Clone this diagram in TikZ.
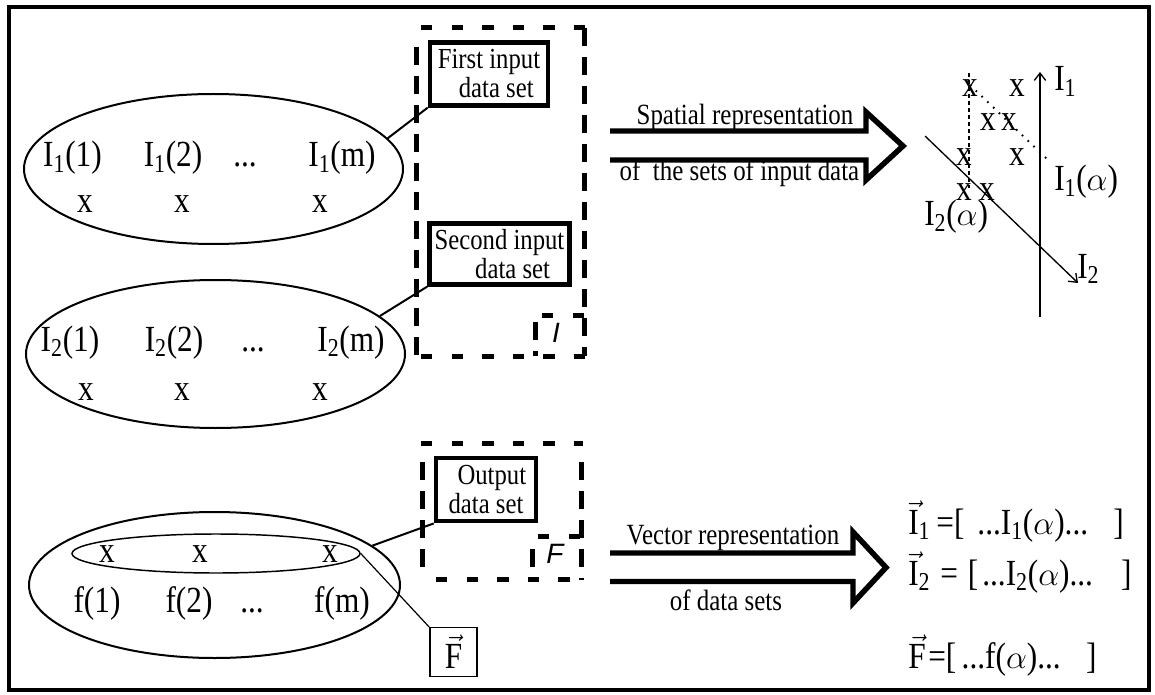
\documentclass[tikz,border=0pt]{standalone}
\usepackage{fontspec}
\usepackage{amsmath}
\setmainfont{Liberation Serif}[FakeStretch=0.85]
\setsansfont{Liberation Sans}
\usetikzlibrary{shapes.geometric,arrows.meta}
\begin{document}
\begin{tikzpicture}[x=0.75pt,y=-0.75pt,
  ell/.style={draw, ellipse, line width=1.5pt, inner sep=0pt},
  fml/.style={font=\fontsize{27.6}{32}\selectfont, inner sep=0pt},
  tbox/.style={draw, line width=3.4pt, align=center, inner sep=0pt,
               font=\fontsize{21.8}{21.75}\selectfont},
  alab/.style={font=\fontsize{22}{26}\selectfont, inner sep=0pt, anchor=base},
  conn/.style={line width=1.5pt},
  thinconn/.style={line width=0.9pt},
  fat/.style={line width=4.1pt, line join=miter},
  hd/.style={line width=3.75pt, dash pattern=on 8.6pt off 14.3pt},
  vd/.style={line width=3.75pt, dash pattern=on 13.5pt off 8.25pt},
  axis/.style={line width=1pt},
  axarrow/.style={-{Straight Barb[length=5.5pt,width=8.5pt]}},
  corner/.style={font=\fontsize{21}{25}\selectfont\sffamily\itshape, inner sep=0pt}
]
\useasboundingbox (0,0) rectangle (1155,695);
% outer frame
\draw[line width=3.4pt] (9,7) rectangle (1149,690);

% ---------- ellipses ----------
\node[ell, minimum width=284.25pt, minimum height=112.5pt] (e1) at (213.5,169) {};
\node[ell, minimum width=284.25pt, minimum height=111pt] (e2) at (215.5,354) {};
\node[ell, minimum width=278.25pt, minimum height=109.5pt] (e3) at (214.5,585) {};
\node[ell, line width=1.1pt, minimum width=216pt, minimum height=29.25pt] (e3i) at (216,553.5) {};

% ellipse 1 contents
\node[fml, anchor=base] (a11) at (72.5,167) {I$_{\text{1}}$(1)};
\node[fml, anchor=base] (a12) at (173,167) {I$_{\text{1}}$(2)};
\node[fml, anchor=base] (a1d) at (245,167) {...};
\node[fml, anchor=base] (a1m) at (342,167) {I$_{\text{1}}$(m)};
\node[fml, anchor=base] (x11) at (85,213) {x};
\node[fml, anchor=base] (x12) at (182,213) {x};
\node[fml, anchor=base] (x1m) at (320,213) {x};

% ellipse 2 contents
\node[fml, anchor=base] (a21) at (70,351) {I$_{\text{2}}$(1)};
\node[fml, anchor=base] (a22) at (174,351) {I$_{\text{2}}$(2)};
\node[fml, anchor=base] (a2d) at (253,351) {...};
\node[fml, anchor=base] (a2m) at (351,351) {I$_{\text{2}}$(m)};
\node[fml, anchor=base] (x21) at (86,400) {x};
\node[fml, anchor=base] (x22) at (182,400) {x};
\node[fml, anchor=base] (x2m) at (320,400) {x};

% output ellipse contents
\node[fml, anchor=base] (xf1) at (107,562) {x};
\node[fml, anchor=base] (xf2) at (200,562) {x};
\node[fml, anchor=base] (xfm) at (330,562) {x};
\node[fml, anchor=base] (f1) at (97,612) {f(1)};
\node[fml, anchor=base] (f2) at (189,612) {f(2)};
\node[fml, anchor=base] (fd) at (252,612) {...};
\node[fml, anchor=base] (fm) at (342,612) {f(m)};

% ---------- boxes ----------
\node[tbox, minimum width=88.5pt, minimum height=47pt] (b1) at (489,74)
  {First input\\\hspace*{0.5em}data set};
\node[tbox, minimum width=105pt, minimum height=45.5pt] (b2) at (499.5,254)
  {Second input\\\hspace*{0.9em}data set};
\node[tbox, minimum width=75pt, minimum height=47.5pt] (b3) at (486,489.5)
  {\hspace*{0.4em}Output\\data set};
\node[draw, line width=1.1pt, minimum width=35.5pt, minimum height=36.5pt, fml] (fb) at (453.5,652)
  {$\vec{\text{F}}$};

% connectors
\draw[conn] (e1.10) -- (b1.south west);
\draw[conn] (e2.13) -- (b2.south west);
\draw[conn] (e3.14) -- (b3.south west);
\draw[thinconn] (e3i.east) -- (fb.north west);

% ---------- dashed group boxes ----------
% box I
\draw[hd] (421,28) -- (585,28);
\draw[hd] (421,356) -- (585,356);
\draw[vd] (416,47) -- (416,356);
\draw[vd] (584,28) -- (584,356);
\draw[hd] (542,315) -- (585,315);
\draw[vd] (535,322) -- (535,356);
\node[corner] (lI) at (556,333) {I};
% box F
\draw[hd] (421,443) -- (583,443);
\draw[hd] (436,579) -- (583,579);
\draw[vd] (422,462) -- (422,568);
\draw[vd] (581,462) -- (581,580);
\draw[hd] (538,536) -- (583,536);
\draw[vd] (532,549) -- (532,570);
\node[corner] (lF) at (555,554) {F};

% ---------- big hollow arrows ----------
\draw[fat] (610,131) -- (866,131) -- (866,112) -- (903,146) -- (866,180) -- (866,160) -- (610,160);
\node[alab] (sp1) at (745,125) {Spatial representation};
\node[alab] (sp2) at (739.5,181) {of\ \ the sets of input data};

\draw[fat] (610,553) -- (853,553) -- (853,532) -- (886,567.5) -- (853,603) -- (853,581.5) -- (610,581.5);
\node[alab] (vr1) at (733,544) {Vector representation};
\node[alab] (vr2) at (726,610) {of data sets};

% ---------- spatial representation ----------
\coordinate (ax1s) at (1040,317);
\coordinate (ax1e) at (1040,72);
\coordinate (ax2s) at (925,136);
\coordinate (ax2e) at (1078,283);
\draw[axis, axarrow] (ax1s) -- (ax1e);
\draw[axis, axarrow] (ax2s) -- (ax2e);
\coordinate (ds) at (969,73);
\coordinate (de) at (969,188);
\draw[line width=0.9pt, dash pattern=on 3pt off 2.25pt] (ds) -- (de);
\coordinate (ps) at (970,85);
\coordinate (pe) at (1048,160);
\draw[line width=1.5pt, dash pattern=on 1.2pt off 4.8pt] (ps) -- (pe);

\node[fml] (p1) at (970,88) {x};
\node[fml] (p2) at (1017,88) {x};
\node[fml] (p3) at (988,122) {x};
\node[fml] (p4) at (1009,122) {x};
\node[fml] (p5) at (964,157) {x};
\node[fml] (p6) at (1017,157) {x};
\node[fml] (p7) at (964,192) {x};
\node[fml] (p8) at (987,192) {x};

\node[fml, anchor=base west] (lI1) at (1054,91) {I$_{\text{1}}$};
\node[fml, anchor=base west] (lI2) at (1077,278) {I$_{\text{2}}$};
\node[fml, anchor=base west] (lI1a) at (1054,191) {I$_{\text{1}}$($\alpha$)};
\node[fml, anchor=base west] (lI2a) at (924,226) {I$_{\text{2}}$($\alpha$)};

% ---------- vector equations ----------
\node[fml, anchor=base west] (v1) at (908,534)
  {$\vec{\text{I}}_{\text{1}}$\,=[\hspace{9.75pt}...I$_{\text{1}}$($\alpha$)...\hspace{19pt}]};
\node[fml, anchor=base west] (v2) at (908,585)
  {$\vec{\text{I}}_{\text{2}}$\hspace{7.5pt}=\hspace{7.5pt}[\hspace{3pt}...I$_{\text{2}}$($\alpha$)...\hspace{21pt}]};
\node[fml, anchor=base west] (v3) at (908,668)
  {$\vec{\text{F}}$\hspace{2pt}=[\hspace{4pt}...f($\alpha$)...\hspace{19pt}]};
\end{tikzpicture}
\end{document}
